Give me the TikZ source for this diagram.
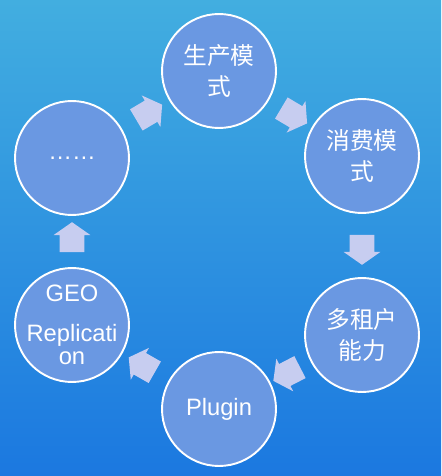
\documentclass[tikz,border=0pt]{standalone}
\usepackage{fontspec}
\setmainfont{Liberation Sans}
\newfontfamily\cjk{Noto Sans CJK SC}
\usepackage{xcolor}
\usepackage{tikz}
\usetikzlibrary{shapes.arrows,calc}

\definecolor{bgtop}{HTML}{42AEE0}
\definecolor{bgbot}{HTML}{1B78E0}
\definecolor{ballfill}{HTML}{6A98E2}
\definecolor{arrowfill}{HTML}{C7CDF0}

\begin{document}
\begin{tikzpicture}[
        x=0.02cm, y=-0.02cm,
        ball/.style={circle, draw=white, line width=1.1pt, fill=ballfill, minimum size=2.28cm, inner sep=0pt, align=center, text=white, font=\fontsize{13.5}{17.5}\selectfont},
        blockarrow/.style={single arrow, draw=none, fill=arrowfill, minimum height=0.6cm, inner xsep=0pt, inner ysep=0.24cm, single arrow head extend=0.12cm, single arrow tip angle=110}
    ]
        % background
        \useasboundingbox (0,0) rectangle (441,476);
        \shade[top color=bgtop, bottom color=bgbot] (0,0) rectangle (441,476);

        % Stages
        \node[ball] (c1) at (219,71) {\cjk 生产模\\\cjk 式};
        \node[ball] (c2) at (362,156) {\cjk 消费模\\\cjk 式};
        \node[ball] (c3) at (362,335) {\cjk 多租户\\\cjk 能力};
        \node[ball] (c4) at (219,409) {Plugin};
        \node[ball, inner sep=-0.2cm] (c5) at (72,325) {GEO\\[5pt]Replicati\\[-4pt]on};
        \node[ball] (c6) at (72,158) {……};

        % Arrows between stages
        \foreach \a/\b in {c6/c1, c1/c2, c2/c3, c3/c4, c4/c5, c5/c6}
            \path let \p1=($(\b)-(\a)$), \n1={atan2(\y1,\x1)} in
                node[blockarrow, rotate=\n1] (\a\b) at ($(\a)!0.5!(\b)$) {};
    \end{tikzpicture}
\end{document}
